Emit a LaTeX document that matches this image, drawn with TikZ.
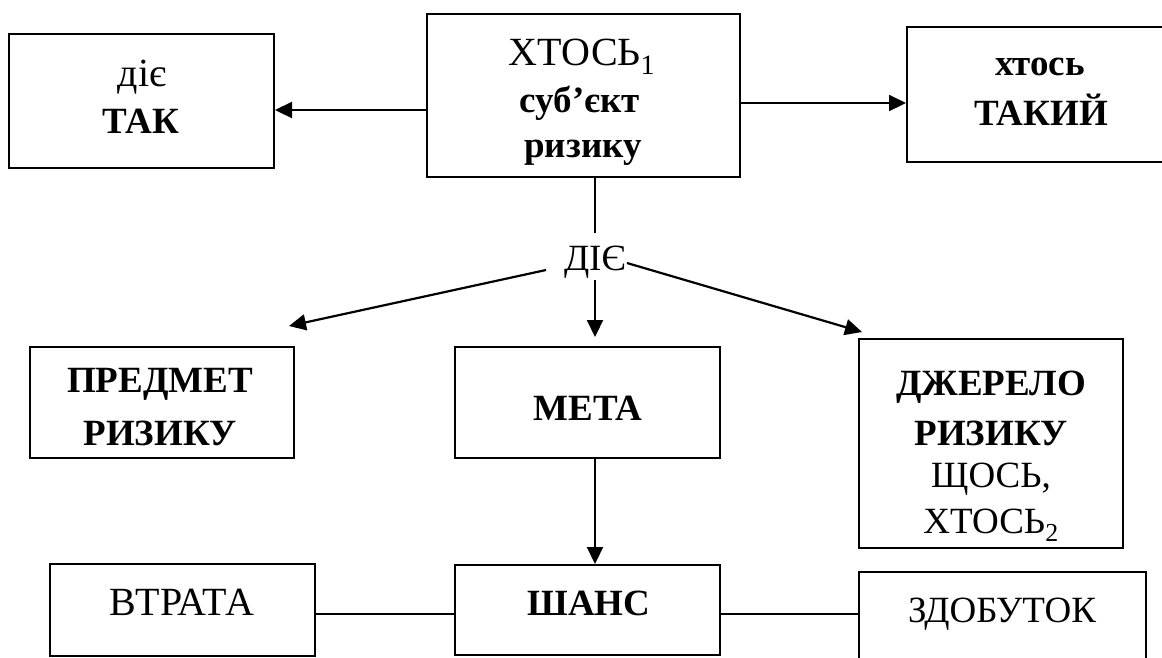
\documentclass[tikz,border=0pt]{standalone}
\usepackage{fontspec}
\setmainfont{Liberation Serif}
\usetikzlibrary{arrows.meta,calc}
\begin{document}
\begin{tikzpicture}[x=1pt,y=-1pt,
  box/.style={draw, line width=2pt, rectangle, inner sep=0pt},
  txt/.style={anchor=base, inner sep=0pt, font=\fontsize{37}{44}\selectfont},
  bigtxt/.style={anchor=base, inner sep=0pt, font=\fontsize{40}{48}\selectfont},
  btxt/.style={anchor=base, inner sep=0pt, font=\fontsize{37}{44}\selectfont\bfseries},
  link/.style={line width=2pt},
  arr/.style={line width=2.2pt, -{Triangle[length=17pt,width=16pt]}}]
\clip (0,0) rectangle (1162,657);
\fill[white] (0,0) rectangle (1162,657);

% boxes
\node[box, minimum width=265pt, minimum height=134pt] (tak)   at (141.5,101)  {};
\node[box, minimum width=313pt, minimum height=163pt] (subj)  at (583.5,95.5) {};
\node[box, minimum width=293pt, minimum height=135pt] (such)  at (1053.5,94.5) {};
\node[box, minimum width=264pt, minimum height=111pt] (obj)   at (162,402.5)  {};
\node[box, minimum width=265pt, minimum height=111pt] (goal)  at (587.5,402.5) {};
\node[box, minimum width=264pt, minimum height=209pt] (src)   at (991,443.5)  {};
\node[box, minimum width=265pt, minimum height=90pt]  (chance) at (587.5,610) {};
\node[box, minimum width=265pt, minimum height=92pt]  (loss)  at (182.5,610)  {};
\node[box, minimum width=287pt, minimum height=108pt] (gain)  at (1002.5,626) {};

% box texts
\node[bigtxt] (t1) at (142,86)  {діє};
\node[btxt] (t2) at (141,133) {ТАК};
\node[bigtxt] (s1) at (582,65)  {ХТОСЬ\textsubscript{1}};
\node[btxt] (s2) at (580,112) {суб’єкт};
\node[btxt] (s3) at (583,157) {ризику};
\node[btxt] (k1) at (1040,75) {хтось};
\node[btxt] (k2) at (1041,125) {ТАКИЙ};
\node[btxt] (o1) at (160,392) {ПРЕДМЕТ};
\node[btxt] (o2) at (160,445) {РИЗИКУ};
\node[btxt] (g1) at (588,420) {МЕТА};
\node[btxt] (r1) at (991,395) {ДЖЕРЕЛО};
\node[btxt] (r2) at (991,445) {РИЗИКУ};
\node[txt]  (r3) at (991,487) {ЩОСЬ,};
\node[txt]  (r4) at (991,533) {ХТОСЬ\textsubscript{2}};
\node[btxt] (c1) at (589,615) {ШАНС};
\node[bigtxt] (l1) at (182,615) {ВТРАТА};
\node[txt]  (w1) at (1002,622) {ЗДОБУТОК};

% the acting link
\node[txt] (die) at (595,270) {ДІЄ};

% connectors
\draw[arr] ($(subj.west)+(0,14.5)$) -- ($(tak.east)+(0,9)$);
\draw[arr] ($(subj.east)+(0,7.5)$) -- ($(such.west)+(0,8.5)$);
\draw[link] (subj.south -| die.base) -- ($(die.base)+(0,-37)$);
\draw[arr] ($(die.base)+(-49,0)$) -- ($(obj.north east)+(-6,-20)$);
\draw[arr] ($(die.base)+(0,10)$) -- ($(goal.north -| die.base)+(0,-9)$);
\draw[arr] ($(die.base)+(32,-7)$) -- ($(src.north west)+(4,-6)$);
\draw[arr] (goal.south -| die.base) -- (chance.north -| die.base);
\draw[link] ($(loss.east)+(-2,4)$) -- ($(chance.west)+(0,4)$);
\draw[link] ($(chance.east)+(0,4)$) -- ($(gain.west)+(0,-12)$);
\end{tikzpicture}
\end{document}
